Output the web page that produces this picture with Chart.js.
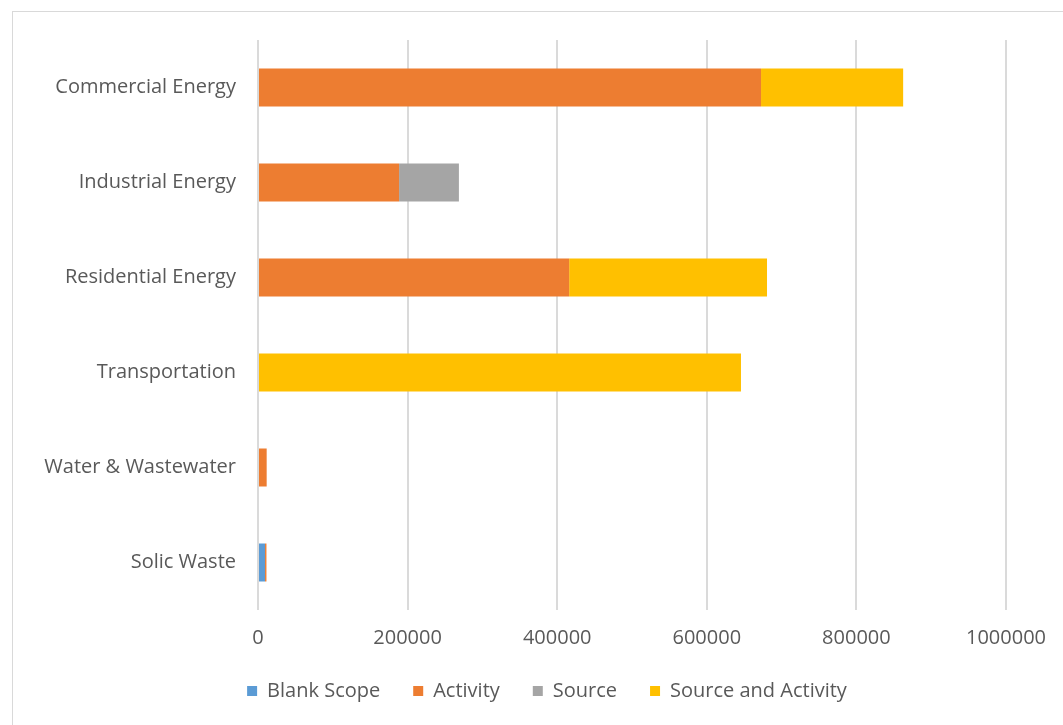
<!DOCTYPE html>
<html>
<head>
<meta charset="utf-8">
<script src="https://cdn.jsdelivr.net/npm/chart.js@4"></script>
<style>
  html, body { margin: 0; padding: 0; background: #fff; overflow: hidden; }
  #frame { position: absolute; left: 12px; top: 11px; width: 1060px; height: 720px; border: 1px solid #d9d9d9; }
  #wrap { position: absolute; left: 0; top: 0; width: 1063px; height: 725px; }
</style>
</head>
<body>
<div id="frame"></div>
<div id="wrap"><canvas id="ghgChart"></canvas></div>
<script>
const sectors = ['Commercial Energy', 'Industrial Energy', 'Residential Energy', 'Transportation', 'Water & Wastewater', 'Solic Waste'];
const blankScope = [0, 0, 0, 0, 0, 9400];
const activity = [672500, 188600, 416000, 0, 11600, 1900];
const source = [0, 80000, 0, 0, 0, 0];
const sourceAndActivity = [190000, 0, 264500, 645700, 0, 0];
const xTicks = [0, 200000, 400000, 600000, 800000, 1000000];

const fontFam = '"Open Sans", sans-serif';
const textCol = '#595959';

function ds(label, data, color) {
  return {
    label: label,
    data: data,
    backgroundColor: color,
    borderWidth: 0,
    categoryPercentage: 1,
    barPercentage: 0.4
  };
}

// legend sits centred on the whole frame, not on the plot box
const legendShift = {
  id: 'legendShift',
  afterLayout(chart) {
    chart.legend.left += 38;
    chart.legend.right += 38;
  }
};

document.addEventListener('DOMContentLoaded', () => {
  const ctx = document.getElementById('ghgChart').getContext('2d');
  new Chart(ctx, {
    type: 'bar',
    data: {
      labels: sectors,
      datasets: [
        ds('Blank Scope', blankScope, '#5B9BD5'),
        ds('Activity', activity, '#ED7D31'),
        ds('Source', source, '#A5A5A5'),
        ds('Source and Activity', sourceAndActivity, '#FFC000')
      ]
    },
    plugins: [legendShift],
    options: {
      indexAxis: 'y',
      responsive: true,
      maintainAspectRatio: false,
      animation: false,
      layout: { padding: { left: 12, top: 40, right: 57, bottom: 14 } },
      plugins: {
        tooltip: { enabled: false },
        legend: {
          position: 'bottom',
          labels: {
            boxWidth: 10,
            boxHeight: 10,
            padding: 33,
            color: textCol,
            font: { family: fontFam, size: 20 }
          }
        }
      },
      scales: {
        x: {
          stacked: true,
          min: 0,
          max: 1000000,
          afterBuildTicks: (scale) => { scale.ticks = xTicks.map(v => ({ value: v })); },
          afterFit: (scale) => { scale.height = 38; },
          grid: { color: '#dadada', lineWidth: 2, drawTicks: false },
          border: { display: false },
          ticks: {
            padding: 16,
            color: textCol,
            font: { family: fontFam, size: 20 },
            maxRotation: 0,
            callback: (v) => String(v)
          }
        },
        y: {
          stacked: true,
          afterFit: (scale) => { scale.width = 246; },
          grid: { display: false, drawTicks: false },
          border: { display: false },
          ticks: {
            padding: 22,
            color: textCol,
            font: { family: fontFam, size: 20 }
          }
        }
      }
    }
  });
});
</script>
</body>
</html>
